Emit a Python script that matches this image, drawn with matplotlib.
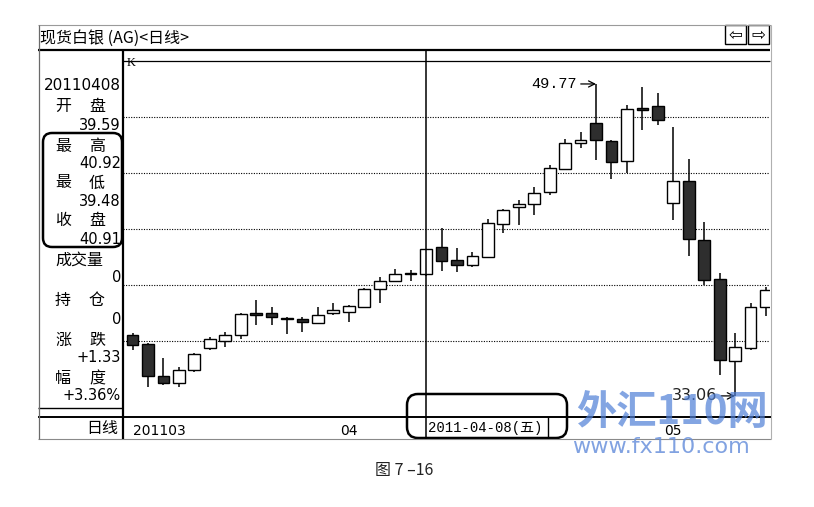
import matplotlib.pyplot as plt
from matplotlib.patches import FancyBboxPatch, Rectangle

plt.rcParams['font.family'] = ['Noto Sans CJK SC', 'DejaVu Sans']

# daily candles 2011-03-14 .. 2011-05-04
opens = [36.32, 35.84, 34.13, 33.75, 34.45, 35.63, 36.00, 36.32, 37.50, 37.50,
         37.17, 37.18, 36.96, 37.50, 37.55, 37.82, 38.79, 39.21, 39.64, 39.59,
         41.04, 40.34, 40.07, 40.50, 42.27, 43.18, 43.34, 43.98, 45.21, 46.61,
         47.68, 46.71, 45.64, 48.48, 48.59, 43.39, 44.57, 41.41, 39.32, 34.93,
         35.63, 37.82]
highs = [36.43, 35.88, 35.09, 34.61, 35.36, 36.21, 36.48, 37.50, 38.20, 37.82,
         37.29, 37.29, 37.82, 38.04, 37.93, 38.82, 39.43, 39.86, 39.80, 40.92,
         42.05, 40.98, 40.77, 42.54, 43.05, 43.55, 44.25, 45.43, 46.82, 47.19,
         49.77, 46.77, 48.64, 49.61, 49.28, 47.46, 45.75, 42.37, 39.64, 36.43,
         38.04, 38.89]
lows = [35.52, 33.54, 33.64, 33.54, 34.34, 35.52, 35.68, 36.11, 36.86, 36.86,
        36.38, 36.48, 36.91, 37.39, 37.02, 37.80, 38.04, 39.16, 39.21, 39.48,
        39.75, 39.70, 39.96, 40.48, 41.79, 42.21, 42.75, 43.82, 45.16, 46.34,
        45.70, 44.68, 44.99, 47.30, 47.57, 42.48, 40.55, 39.00, 34.18, 33.06,
        35.52, 37.34]
closes = [35.79, 34.13, 33.75, 34.45, 35.30, 36.11, 36.32, 37.45, 37.39, 37.29,
          37.19, 37.02, 37.39, 37.66, 37.88, 38.79, 39.21, 39.59, 39.58, 40.91,
          40.29, 40.07, 40.55, 42.32, 43.02, 43.34, 43.93, 45.27, 46.61, 46.77,
          46.77, 45.59, 48.43, 48.37, 47.84, 44.57, 41.46, 39.27, 34.98, 35.68,
          37.82, 38.73]
grid_levels = [36, 39, 42, 45, 48]
tick_pos = [1, 15, 36]
tick_labels = ['201103', '04', '05']
sel = 20  # 2011-04-08

W, H = 814, 507
fig = plt.figure(figsize=(W / 100, H / 100), dpi=100)

# overlay in pixel coordinates for the terminal frame
ov = fig.add_axes([0, 0, 1, 1], zorder=0)
ov.set_xlim(0, W)
ov.set_ylim(H, 0)
ov.axis('off')

def hl(y, x0, x1, lw=1.0, c='black'):
    ov.plot([x0, x1], [y, y], color=c, lw=lw, solid_capstyle='butt')

def vl(x, y0, y1, lw=1.0, c='black'):
    ov.plot([x, x], [y0, y1], color=c, lw=lw, solid_capstyle='butt')

hl(25, 38, 771, 0.8, '#9a9a9a')
hl(50, 38, 770, 1.6)
hl(61, 123, 770, 0.9)
hl(408, 38, 123, 1.0)
hl(417, 38, 772, 1.4)
hl(439, 38, 771, 0.8, '#8a8a8a')
vl(38.5, 25, 439, 0.9, '#6a6a6a')
vl(770.5, 25, 439, 0.8, '#b0b0b0')
vl(123, 50, 439, 1.6)
vl(548, 417, 438, 1.0)

# title row
ov.text(40, 38, '现货白银 (AG)<日线>', fontsize=11.5, ha='left', va='center')
for x0, g in [(725, '⇦'), (748, '⇨')]:
    ov.add_patch(Rectangle((x0, 25), 21, 19, fill=False, lw=1.0, ec='black'))
    ov.text(x0 + 10.5, 35, g, fontsize=12, ha='center', va='center', family='DejaVu Sans')

# left info panel
num = dict(ha='right', va='center', family='DejaVu Sans', fontsize=10.5)
cjk = dict(ha='center', va='center', fontsize=11.5)
ov.text(121, 85, '20110408', **dict(num, fontsize=11))
rows = [(106, '开', '盘', 125, '39.59'), (146, '最', '高', 163, '40.92'),
        (183, '最', '低', 201, '39.48'), (221, '收', '盘', 239, '40.91'),
        (300, '持', '仓', 320, '0'), (340, '涨', '跌', 358, '+1.33'),
        (379, '幅', '度', 395, '+3.36%')]
for y, a, b, yv, v in rows:
    ov.text(63, y, a, **cjk)
    ov.text(97, y, b, **cjk)
    ov.text(121, yv, v, **num)
ov.text(79, 260, '成交量', **cjk)
ov.text(121, 277, '0', **num)
ov.text(118, 428, '日线', ha='right', va='center', fontsize=11.5)
ov.add_patch(FancyBboxPatch((43, 133), 79, 114, boxstyle='round,pad=0,rounding_size=9',
                            fill=False, lw=1.8, ec='black'))

# date label at the cursor
ov.text(428, 428, '2011-04-08(五)', ha='left', va='center', fontsize=10,
        family=['Liberation Mono', 'Noto Sans CJK SC'])
ov.add_patch(FancyBboxPatch((407, 394), 160, 44, boxstyle='round,pad=0,rounding_size=11',
                            fill=False, lw=1.8, ec='black'))

# price chart
ax = fig.add_axes([123 / W, 1 - 417 / H, 647 / W, 356 / H], zorder=1)
ax.set_facecolor('none')
for s in ax.spines.values():
    s.set_visible(False)
ax.set_xlim(0.385, 42.26)
ax.set_ylim(31.93, 51.0)
ax.set_yticks([])
ax.set_xticks(tick_pos)
ax.set_xticklabels(tick_labels, fontsize=10, family='DejaVu Sans')
ax.tick_params(axis='x', length=0, pad=5)
ax.get_xticklabels()[0].set_horizontalalignment('left')
ax.get_xticklabels()[0].set_x(0.52)

for g in grid_levels:
    ax.axhline(g, color='black', lw=0.8, ls=(0, (1, 1.3)), zorder=1)

xs = list(range(1, len(opens) + 1))
ax.vlines(xs, lows, highs, color='black', lw=1.1, zorder=2)
for x, o, c in zip(xs, opens, closes):
    face = '#2e2e2e' if c < o else 'white'
    ax.bar(x, max(abs(c - o), 0.07), bottom=min(o, c), width=0.76,
           color=face, edgecolor='black', linewidth=1.0, zorder=3)

ax.axvline(sel, ymin=-21 / 356, ymax=1 + 11 / 356, color='black', lw=1.1,
           clip_on=False, zorder=4)

ax.text(0.6, 50.9, 'K', fontsize=9, family='Liberation Serif', ha='left', va='center')

i_hi = highs.index(max(highs)) + 1
i_lo = lows.index(min(lows)) + 1
ax.annotate(f'{max(highs):.2f}', xy=(i_hi, max(highs)), xytext=(-14, 0),
            textcoords='offset points', ha='right', va='center', fontsize=11,
            family='Liberation Mono',
            arrowprops=dict(arrowstyle='->', lw=0.9, color='black',
                            shrinkA=1, shrinkB=0, relpos=(1, 0.5)))
ax.annotate(f'{min(lows):.2f}', xy=(i_lo, min(lows)), xytext=(-13, 0),
            textcoords='offset points', ha='right', va='center', fontsize=11.5,
            family='DejaVu Sans', color='#222222',
            arrowprops=dict(arrowstyle='->', lw=0.9, color='black',
                            shrinkA=1, shrinkB=0, relpos=(1, 0.5)))

# watermark and caption
fig.text(672 / W, 1 - 412 / H, '外汇110网', fontsize=29, fontweight='bold',
         color='#4f7fd6', alpha=0.7, ha='center', va='center')
fig.text(661 / W, 1 - 447 / H, 'www.fx110.com', fontsize=16, color='#6b92dc',
         alpha=0.85, ha='center', va='center', family='DejaVu Sans')
fig.text(404 / W, 1 - 470 / H, '图 7 –16', fontsize=11.5, color='#222222',
         ha='center', va='center')

fig.savefig('out.png', dpi=100)
